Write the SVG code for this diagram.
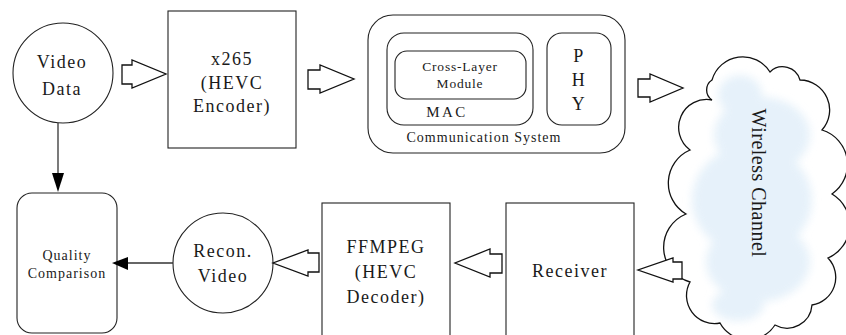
<svg xmlns="http://www.w3.org/2000/svg" width="846" height="335" viewBox="0 0 846 335">
  <style>
    .box { fill: #ffffff; stroke: #222222; stroke-width: 1.1; }
    .t { font-family: "Liberation Serif", "Times New Roman", serif; fill: #1a1a1a; text-anchor: middle; }
    .big { font-size: 18px; letter-spacing: 1.5px; }
    .mid { font-size: 14px; letter-spacing: 1px; }
    .small { font-size: 13.5px; letter-spacing: 0.8px; }
    .hollow { fill: #ffffff; stroke: #111111; stroke-width: 1.3; stroke-linejoin: miter; }
    .link { stroke: #333333; stroke-width: 1.3; fill: none; }
    .head { fill: #000000; stroke: none; }
  </style>
  <defs>
    <filter id="soft" x="-20%" y="-20%" width="140%" height="140%">
      <feGaussianBlur stdDeviation="4"/>
    </filter>
    <clipPath id="cloudClip">
      <path id="cloudShape" d="M712,80 A32,32 0 0 1 770,72 A18,18 0 0 1 800,80 A30,30 0 0 1 822,130 A36,36 0 0 1 832,194 A36,36 0 0 1 828,258 A28,28 0 0 1 812,305 A25,25 0 0 1 775,325 A32,32 0 0 1 720,323 A28,28 0 0 1 690,282 A36,36 0 0 1 686,214 A36,36 0 0 1 690,150 A28,28 0 0 1 712,100 A12,12 0 0 1 712,80 Z"/>
    </clipPath>
  </defs>

  <rect width="846" height="335" fill="#ffffff"/>

  <!-- Source video -->
  <g id="video-data">
    <circle cx="63" cy="73" r="50" class="box"/>
    <text class="t big" x="62" y="68">Video</text>
    <text class="t big" x="62" y="95">Data</text>
  </g>

  <!-- Encoder -->
  <g id="encoder">
    <rect x="168" y="11" width="128" height="137" class="box"/>
    <text class="t big" x="232" y="65">x265</text>
    <text class="t big" x="232" y="89">(HEVC</text>
    <text class="t big" x="232" y="112">Encoder)</text>
  </g>

  <!-- Communication system with MAC / PHY layers -->
  <g id="comm-system">
    <rect x="368" y="15" width="257" height="138" rx="25" class="box"/>
    <text class="t mid" x="484" y="142">Communication System</text>
    <g id="mac">
      <rect x="387" y="33" width="146" height="92" rx="17" class="box"/>
      <text class="t" x="447" y="117" style="font-size:15px;letter-spacing:2.5px">MAC</text>
    </g>
    <g id="cross-layer">
      <rect x="395" y="51" width="131" height="48" rx="12" class="box"/>
      <text class="t small" x="460" y="71">Cross-Layer</text>
      <text class="t small" x="460" y="88">Module</text>
    </g>
    <g id="phy">
      <rect x="547" y="33" width="64" height="92" rx="15" class="box"/>
      <text class="t big" x="579" y="62">P</text>
      <text class="t big" x="579" y="86">H</text>
      <text class="t big" x="579" y="110">Y</text>
    </g>
  </g>

  <!-- Wireless channel cloud -->
  <g id="wireless-channel">
    <use href="#cloudShape" fill="#ffffff"/>
    <g clip-path="url(#cloudClip)">
      <g filter="url(#soft)" fill="#e2eff9" opacity="0.85">
        <ellipse cx="740" cy="95" rx="22" ry="20"/>
        <ellipse cx="762" cy="135" rx="48" ry="38"/>
        <ellipse cx="752" cy="200" rx="60" ry="55"/>
        <ellipse cx="758" cy="262" rx="52" ry="40"/>
        <ellipse cx="738" cy="305" rx="26" ry="16"/>
      </g>
    </g>
    <use href="#cloudShape" fill="none" stroke="#111111" stroke-width="1.3"/>
    <text class="t" transform="translate(752,183) rotate(90)" x="0" y="0" style="font-size:20px;letter-spacing:0.5px">Wireless Channel</text>
  </g>

  <!-- Receiver -->
  <g id="receiver">
    <rect x="506" y="203" width="128" height="140" class="box"/>
    <text class="t big" x="570" y="277">Receiver</text>
  </g>

  <!-- Decoder -->
  <g id="decoder">
    <rect x="322" y="203" width="128" height="140" class="box"/>
    <text class="t big" x="386" y="253">FFMPEG</text>
    <text class="t big" x="386" y="278">(HEVC</text>
    <text class="t big" x="386" y="303">Decoder)</text>
  </g>

  <!-- Reconstructed video -->
  <g id="recon-video">
    <circle cx="223" cy="263" r="50" class="box"/>
    <text class="t big" x="223" y="257">Recon.</text>
    <text class="t big" x="223" y="282">Video</text>
  </g>

  <!-- Quality comparison -->
  <g id="quality">
    <rect x="17" y="193" width="100" height="140" rx="15" class="box"/>
    <text class="t" x="67" y="260" style="font-size:14px;letter-spacing:1px">Quality</text>
    <text class="t" x="67" y="278" style="font-size:14px;letter-spacing:1px">Comparison</text>
  </g>

  <!-- Connectors -->
  <g id="connectors">
    <!-- hollow data-flow arrows -->
    <polygon class="hollow" points="122,65 132,65 132,60 166,74 132,88 132,84 122,84"/>
    <polygon class="hollow" points="308,70 320,70 320,65 354,79 320,93 320,89 308,89"/>
    <polygon class="hollow" points="638,79 650,79 650,74 683,88 650,102 650,97 638,97"/>
    <polygon class="hollow" points="682,262 673,262 673,258 638,270 673,282 673,279 682,279"/>
    <polygon class="hollow" points="502,254 490,254 490,249 455,263 490,277 490,273 502,273"/>
    <polygon class="hollow" points="319,253 308,253 308,250 273,263 308,276 308,272 319,272"/>
    <!-- comparison links -->
    <line class="link" x1="58" y1="123" x2="58" y2="175"/>
    <polygon class="head" points="52,173 64,173 58,192"/>
    <line class="link" x1="173" y1="263" x2="126" y2="263"/>
    <polygon class="head" points="128,257 128,270 112,263"/>
  </g>
</svg>
